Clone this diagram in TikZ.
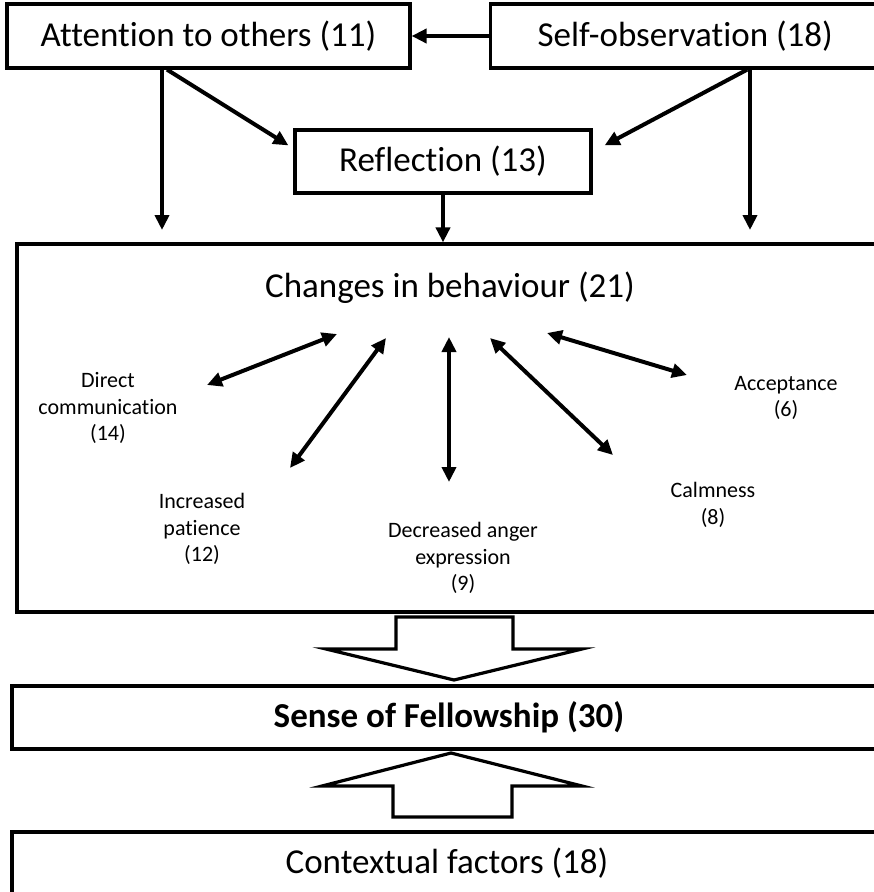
\documentclass[tikz,border=0pt]{standalone}
\usepackage{fontspec}
\setmainfont{Carlito}[Ligatures=CommonOff]
\usetikzlibrary{arrows.meta}
\usetikzlibrary{positioning}
\tikzset{>={Triangle[length=15pt,width=14pt]}, x=1pt, y=-1pt, node distance=1cm}
\newcommand{\bigtxt}{\fontsize{35}{42}\selectfont}
\newcommand{\smalltxt}{\fontsize{22}{26.5}\selectfont}
\tikzstyle{box} = [draw, rectangle, line width=3.2pt, inner sep=0pt, font=\bigtxt, text centered]
\tikzstyle{item} = [align=center, font=\smalltxt, inner sep=0pt]
\tikzstyle{link} = [line width=4pt, ->]
\tikzstyle{both} = [line width=4pt, <->]
\tikzstyle{fat} = [draw, line width=3.2pt, fill=white, line join=miter]

\begin{document}
\begin{tikzpicture}
    \useasboundingbox (0,0) rectangle (874,892);
    \clip (0,0) rectangle (874,892);

    \node [box, minimum width=403pt, minimum height=64pt] (attention) at (208.5,36) {Attention to others (11)};
    \node [box, minimum width=390pt, minimum height=64pt, right=77pt of attention] (selfobs) {Self-observation (18)};
    \node [box, minimum width=296pt, minimum height=63pt] (reflection) at (443,161.5) {Reflection (13)};
    \node [box, minimum width=866pt, minimum height=368pt] (changes) at (450,428) {};
    \node [font=\bigtxt] (changestitle) at (450,288) {Changes in behaviour (21)};
    \node [box, minimum width=874pt, minimum height=63pt, font=\bigtxt\bfseries] (fellowship) at (449,717.5) {Sense of Fellowship (30)};
    \node [box, minimum width=870pt, minimum height=63pt] (context) at (447,863.5) {Contextual factors (18)};

    \node [item] (direct) at (108,408) {Direct\\communication\\(14)};
    \node [item] (patience) at (202,529) {Increased\\patience\\(12)};
    \node [item] (anger) at (463,558) {Decreased anger\\expression\\(9)};
    \node [item] (calm) at (713,505) {Calmness\\(8)};
    \node [item] (accept) at (786,398) {Acceptance\\(6)};

    \coordinate (lefttip) at (162,230);
    \coordinate (righttip) at (750,230);
    \coordinate (directend) at (207,385);
    \coordinate (directhub) at (337,334);
    \coordinate (patienceend) at (290,468);
    \coordinate (patiencehub) at (386,338);
    \coordinate (angerhub) at (449,337);
    \coordinate (angerend) at (449,482);
    \coordinate (calmhub) at (490,338);
    \coordinate (calmend) at (613,455);
    \coordinate (accepthub) at (547,333);
    \coordinate (acceptend) at (687,375);

    \draw [link] (selfobs) -- (attention);
    \draw [link] (attention.south -| lefttip) -- (lefttip);
    \draw [link] (selfobs.south -| righttip) -- (righttip);
    \draw [link] ([xshift=-41.5pt]attention.south) -- ([shift={(-5,17)}]reflection.north west);
    \draw [link] ([xshift=62pt]selfobs.south) -- ([shift={(12,17)}]reflection.north east);
    \draw [link] (reflection.south) -- (reflection.south |- changes.north);

    \draw [both] (directend) -- (directhub);
    \draw [both] (patienceend) -- (patiencehub);
    \draw [both] (angerhub) -- (angerend);
    \draw [both] (calmhub) -- (calmend);
    \draw [both] (accepthub) -- (acceptend);

    % block arrows between the big boxes
    \draw [fat] (396,617) -- (513,617) -- (513,649) -- (582,649) -- (454,680) -- (326,649) -- (396,649) -- cycle;
    \draw [fat] (393,817) -- (512,817) -- (512,786) -- (582,786) -- (451,753) -- (322,786) -- (393,786) -- cycle;
\end{tikzpicture}
\end{document}
